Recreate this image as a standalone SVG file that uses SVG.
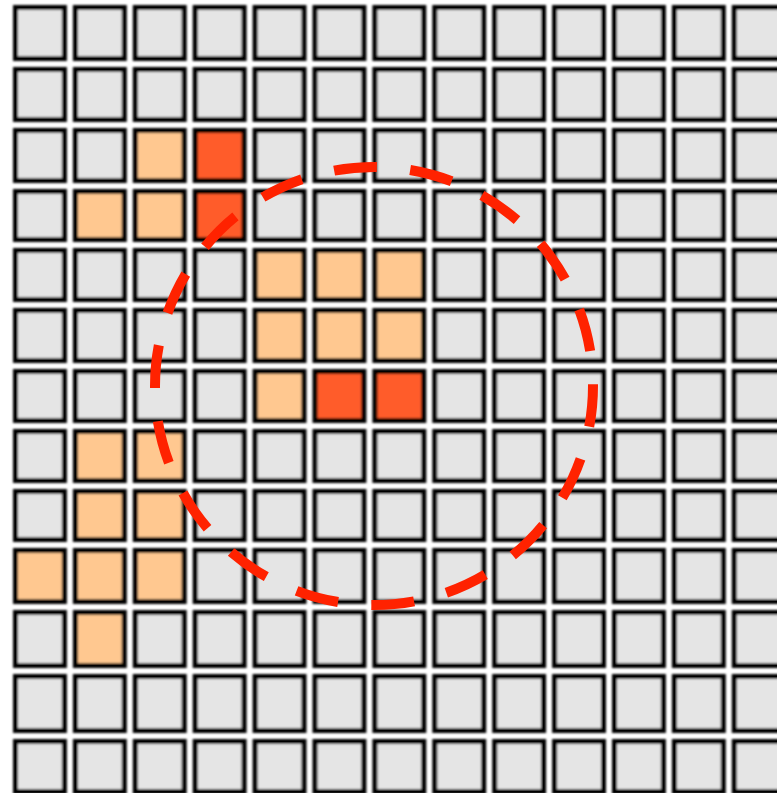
<svg xmlns="http://www.w3.org/2000/svg" width="777" height="793" viewBox="0 0 777 793">
<defs>
<style>
.c{fill:#e5e5e5;stroke:#000;stroke-width:5}
.l{fill:#ffc890;stroke:#000;stroke-width:5}
.d{fill:#ff5c2b;stroke:#000;stroke-width:5}
.ring{fill:none;stroke:#ff2200;stroke-width:10;stroke-dasharray:43 33.44;stroke-dashoffset:2.2}
</style>
<filter id="soft" x="-2%" y="-2%" width="104%" height="104%"><feGaussianBlur stdDeviation="0.9"/></filter>
</defs>
<rect width="777" height="793" fill="#ffffff"/>
<g id="grid" filter="url(#soft)">
<g id="row0"><rect class="c" x="15.5" y="7.5" width="48.9" height="51"/><rect class="c" x="75.4" y="7.5" width="48.9" height="51"/><rect class="c" x="135.3" y="7.5" width="48.9" height="51"/><rect class="c" x="195.2" y="7.5" width="48.9" height="51"/><rect class="c" x="255.1" y="7.5" width="48.9" height="51"/><rect class="c" x="315" y="7.5" width="48.9" height="51"/><rect class="c" x="374.9" y="7.5" width="48.9" height="51"/><rect class="c" x="434.8" y="7.5" width="48.9" height="51"/><rect class="c" x="494.7" y="7.5" width="48.9" height="51"/><rect class="c" x="554.6" y="7.5" width="48.9" height="51"/><rect class="c" x="614.5" y="7.5" width="48.9" height="51"/><rect class="c" x="674.4" y="7.5" width="48.9" height="51"/><rect class="c" x="734.3" y="7.5" width="48.9" height="51"/></g>
<g id="row1"><rect class="c" x="15.5" y="69.5" width="48.9" height="50"/><rect class="c" x="75.4" y="69.5" width="48.9" height="50"/><rect class="c" x="135.3" y="69.5" width="48.9" height="50"/><rect class="c" x="195.2" y="69.5" width="48.9" height="50"/><rect class="c" x="255.1" y="69.5" width="48.9" height="50"/><rect class="c" x="315" y="69.5" width="48.9" height="50"/><rect class="c" x="374.9" y="69.5" width="48.9" height="50"/><rect class="c" x="434.8" y="69.5" width="48.9" height="50"/><rect class="c" x="494.7" y="69.5" width="48.9" height="50"/><rect class="c" x="554.6" y="69.5" width="48.9" height="50"/><rect class="c" x="614.5" y="69.5" width="48.9" height="50"/><rect class="c" x="674.4" y="69.5" width="48.9" height="50"/><rect class="c" x="734.3" y="69.5" width="48.9" height="50"/></g>
<g id="row2"><rect class="c" x="15.5" y="130.5" width="48.9" height="50"/><rect class="c" x="75.4" y="130.5" width="48.9" height="50"/><rect class="l" x="135.3" y="130.5" width="48.9" height="50"/><rect class="d" x="195.2" y="130.5" width="48.9" height="50"/><rect class="c" x="255.1" y="130.5" width="48.9" height="50"/><rect class="c" x="315" y="130.5" width="48.9" height="50"/><rect class="c" x="374.9" y="130.5" width="48.9" height="50"/><rect class="c" x="434.8" y="130.5" width="48.9" height="50"/><rect class="c" x="494.7" y="130.5" width="48.9" height="50"/><rect class="c" x="554.6" y="130.5" width="48.9" height="50"/><rect class="c" x="614.5" y="130.5" width="48.9" height="50"/><rect class="c" x="674.4" y="130.5" width="48.9" height="50"/><rect class="c" x="734.3" y="130.5" width="48.9" height="50"/></g>
<g id="row3"><rect class="c" x="15.5" y="191.5" width="48.9" height="48"/><rect class="l" x="75.4" y="191.5" width="48.9" height="48"/><rect class="l" x="135.3" y="191.5" width="48.9" height="48"/><rect class="d" x="195.2" y="191.5" width="48.9" height="48"/><rect class="c" x="255.1" y="191.5" width="48.9" height="48"/><rect class="c" x="315" y="191.5" width="48.9" height="48"/><rect class="c" x="374.9" y="191.5" width="48.9" height="48"/><rect class="c" x="434.8" y="191.5" width="48.9" height="48"/><rect class="c" x="494.7" y="191.5" width="48.9" height="48"/><rect class="c" x="554.6" y="191.5" width="48.9" height="48"/><rect class="c" x="614.5" y="191.5" width="48.9" height="48"/><rect class="c" x="674.4" y="191.5" width="48.9" height="48"/><rect class="c" x="734.3" y="191.5" width="48.9" height="48"/></g>
<g id="row4"><rect class="c" x="15.5" y="250.5" width="48.9" height="49"/><rect class="c" x="75.4" y="250.5" width="48.9" height="49"/><rect class="c" x="135.3" y="250.5" width="48.9" height="49"/><rect class="c" x="195.2" y="250.5" width="48.9" height="49"/><rect class="l" x="255.1" y="250.5" width="48.9" height="49"/><rect class="l" x="315" y="250.5" width="48.9" height="49"/><rect class="l" x="374.9" y="250.5" width="48.9" height="49"/><rect class="c" x="434.8" y="250.5" width="48.9" height="49"/><rect class="c" x="494.7" y="250.5" width="48.9" height="49"/><rect class="c" x="554.6" y="250.5" width="48.9" height="49"/><rect class="c" x="614.5" y="250.5" width="48.9" height="49"/><rect class="c" x="674.4" y="250.5" width="48.9" height="49"/><rect class="c" x="734.3" y="250.5" width="48.9" height="49"/></g>
<g id="row5"><rect class="c" x="15.5" y="310.5" width="48.9" height="50"/><rect class="c" x="75.4" y="310.5" width="48.9" height="50"/><rect class="c" x="135.3" y="310.5" width="48.9" height="50"/><rect class="c" x="195.2" y="310.5" width="48.9" height="50"/><rect class="l" x="255.1" y="310.5" width="48.9" height="50"/><rect class="l" x="315" y="310.5" width="48.9" height="50"/><rect class="l" x="374.9" y="310.5" width="48.9" height="50"/><rect class="c" x="434.8" y="310.5" width="48.9" height="50"/><rect class="c" x="494.7" y="310.5" width="48.9" height="50"/><rect class="c" x="554.6" y="310.5" width="48.9" height="50"/><rect class="c" x="614.5" y="310.5" width="48.9" height="50"/><rect class="c" x="674.4" y="310.5" width="48.9" height="50"/><rect class="c" x="734.3" y="310.5" width="48.9" height="50"/></g>
<g id="row6"><rect class="c" x="15.5" y="371.5" width="48.9" height="49"/><rect class="c" x="75.4" y="371.5" width="48.9" height="49"/><rect class="c" x="135.3" y="371.5" width="48.9" height="49"/><rect class="c" x="195.2" y="371.5" width="48.9" height="49"/><rect class="l" x="255.1" y="371.5" width="48.9" height="49"/><rect class="d" x="315" y="371.5" width="48.9" height="49"/><rect class="d" x="374.9" y="371.5" width="48.9" height="49"/><rect class="c" x="434.8" y="371.5" width="48.9" height="49"/><rect class="c" x="494.7" y="371.5" width="48.9" height="49"/><rect class="c" x="554.6" y="371.5" width="48.9" height="49"/><rect class="c" x="614.5" y="371.5" width="48.9" height="49"/><rect class="c" x="674.4" y="371.5" width="48.9" height="49"/><rect class="c" x="734.3" y="371.5" width="48.9" height="49"/></g>
<g id="row7"><rect class="c" x="15.5" y="431.5" width="48.9" height="49"/><rect class="l" x="75.4" y="431.5" width="48.9" height="49"/><rect class="l" x="135.3" y="431.5" width="48.9" height="49"/><rect class="c" x="195.2" y="431.5" width="48.9" height="49"/><rect class="c" x="255.1" y="431.5" width="48.9" height="49"/><rect class="c" x="315" y="431.5" width="48.9" height="49"/><rect class="c" x="374.9" y="431.5" width="48.9" height="49"/><rect class="c" x="434.8" y="431.5" width="48.9" height="49"/><rect class="c" x="494.7" y="431.5" width="48.9" height="49"/><rect class="c" x="554.6" y="431.5" width="48.9" height="49"/><rect class="c" x="614.5" y="431.5" width="48.9" height="49"/><rect class="c" x="674.4" y="431.5" width="48.9" height="49"/><rect class="c" x="734.3" y="431.5" width="48.9" height="49"/></g>
<g id="row8"><rect class="c" x="15.5" y="491.5" width="48.9" height="48"/><rect class="l" x="75.4" y="491.5" width="48.9" height="48"/><rect class="l" x="135.3" y="491.5" width="48.9" height="48"/><rect class="c" x="195.2" y="491.5" width="48.9" height="48"/><rect class="c" x="255.1" y="491.5" width="48.9" height="48"/><rect class="c" x="315" y="491.5" width="48.9" height="48"/><rect class="c" x="374.9" y="491.5" width="48.9" height="48"/><rect class="c" x="434.8" y="491.5" width="48.9" height="48"/><rect class="c" x="494.7" y="491.5" width="48.9" height="48"/><rect class="c" x="554.6" y="491.5" width="48.9" height="48"/><rect class="c" x="614.5" y="491.5" width="48.9" height="48"/><rect class="c" x="674.4" y="491.5" width="48.9" height="48"/><rect class="c" x="734.3" y="491.5" width="48.9" height="48"/></g>
<g id="row9"><rect class="l" x="15.5" y="550.5" width="48.9" height="51"/><rect class="l" x="75.4" y="550.5" width="48.9" height="51"/><rect class="l" x="135.3" y="550.5" width="48.9" height="51"/><rect class="c" x="195.2" y="550.5" width="48.9" height="51"/><rect class="c" x="255.1" y="550.5" width="48.9" height="51"/><rect class="c" x="315" y="550.5" width="48.9" height="51"/><rect class="c" x="374.9" y="550.5" width="48.9" height="51"/><rect class="c" x="434.8" y="550.5" width="48.9" height="51"/><rect class="c" x="494.7" y="550.5" width="48.9" height="51"/><rect class="c" x="554.6" y="550.5" width="48.9" height="51"/><rect class="c" x="614.5" y="550.5" width="48.9" height="51"/><rect class="c" x="674.4" y="550.5" width="48.9" height="51"/><rect class="c" x="734.3" y="550.5" width="48.9" height="51"/></g>
<g id="row10"><rect class="c" x="15.5" y="612.5" width="48.9" height="53"/><rect class="l" x="75.4" y="612.5" width="48.9" height="53"/><rect class="c" x="135.3" y="612.5" width="48.9" height="53"/><rect class="c" x="195.2" y="612.5" width="48.9" height="53"/><rect class="c" x="255.1" y="612.5" width="48.9" height="53"/><rect class="c" x="315" y="612.5" width="48.9" height="53"/><rect class="c" x="374.9" y="612.5" width="48.9" height="53"/><rect class="c" x="434.8" y="612.5" width="48.9" height="53"/><rect class="c" x="494.7" y="612.5" width="48.9" height="53"/><rect class="c" x="554.6" y="612.5" width="48.9" height="53"/><rect class="c" x="614.5" y="612.5" width="48.9" height="53"/><rect class="c" x="674.4" y="612.5" width="48.9" height="53"/><rect class="c" x="734.3" y="612.5" width="48.9" height="53"/></g>
<g id="row11"><rect class="c" x="15.5" y="676.5" width="48.9" height="54"/><rect class="c" x="75.4" y="676.5" width="48.9" height="54"/><rect class="c" x="135.3" y="676.5" width="48.9" height="54"/><rect class="c" x="195.2" y="676.5" width="48.9" height="54"/><rect class="c" x="255.1" y="676.5" width="48.9" height="54"/><rect class="c" x="315" y="676.5" width="48.9" height="54"/><rect class="c" x="374.9" y="676.5" width="48.9" height="54"/><rect class="c" x="434.8" y="676.5" width="48.9" height="54"/><rect class="c" x="494.7" y="676.5" width="48.9" height="54"/><rect class="c" x="554.6" y="676.5" width="48.9" height="54"/><rect class="c" x="614.5" y="676.5" width="48.9" height="54"/><rect class="c" x="674.4" y="676.5" width="48.9" height="54"/><rect class="c" x="734.3" y="676.5" width="48.9" height="54"/></g>
<g id="row12"><rect class="c" x="15.5" y="741.5" width="48.9" height="50"/><rect class="c" x="75.4" y="741.5" width="48.9" height="50"/><rect class="c" x="135.3" y="741.5" width="48.9" height="50"/><rect class="c" x="195.2" y="741.5" width="48.9" height="50"/><rect class="c" x="255.1" y="741.5" width="48.9" height="50"/><rect class="c" x="315" y="741.5" width="48.9" height="50"/><rect class="c" x="374.9" y="741.5" width="48.9" height="50"/><rect class="c" x="434.8" y="741.5" width="48.9" height="50"/><rect class="c" x="494.7" y="741.5" width="48.9" height="50"/><rect class="c" x="554.6" y="741.5" width="48.9" height="50"/><rect class="c" x="614.5" y="741.5" width="48.9" height="50"/><rect class="c" x="674.4" y="741.5" width="48.9" height="50"/><rect class="c" x="734.3" y="741.5" width="48.9" height="50"/></g>
</g>
<g id="circle">
<circle class="ring" cx="374" cy="386" r="219"/>
</g>
</svg>
